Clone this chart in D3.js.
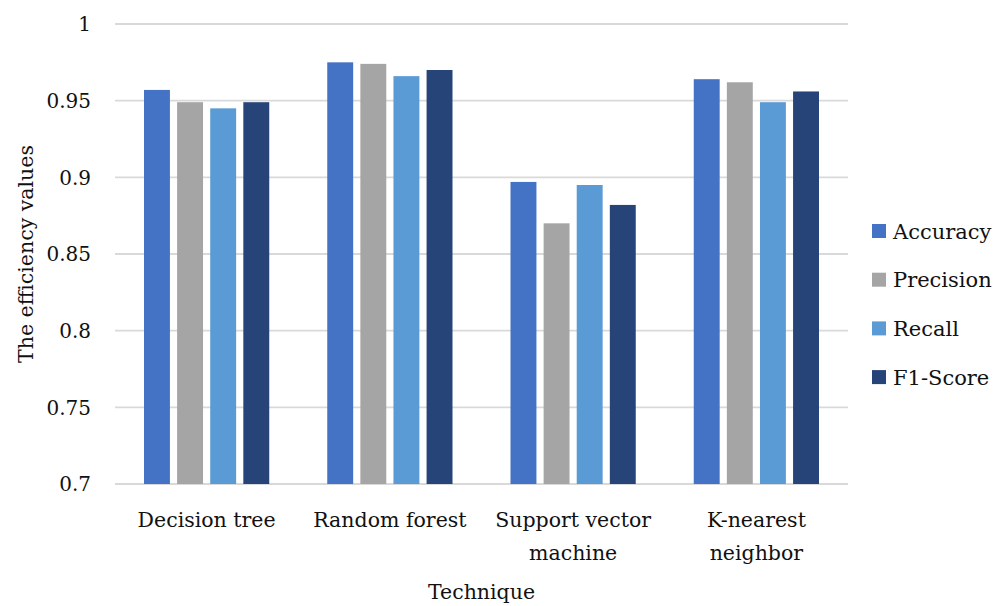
<!DOCTYPE html>
<html><head><meta charset="utf-8">
<script src="https://cdn.jsdelivr.net/npm/d3@7"></script>
<style>
html,body{margin:0;padding:0;background:#fff;}
svg text{font-family:"DejaVu Serif",serif;fill:#111;}
</style></head>
<body><svg id="c" width="1005" height="606"></svg>
<script>
const categories = [["Decision tree"],["Random forest"],["Support vector","machine"],["K-nearest","neighbor"]];
const seriesNames = ["Accuracy","Precision","Recall","F1-Score"];
const accuracy  = [0.957, 0.975, 0.897, 0.964];
const precision = [0.949, 0.974, 0.870, 0.962];
const recall    = [0.945, 0.966, 0.895, 0.949];
const f1score   = [0.949, 0.970, 0.882, 0.956];
const yTicks = [0.7, 0.75, 0.8, 0.85, 0.9, 0.95, 1];
const yTickLabels = ["0.7","0.75","0.8","0.85","0.9","0.95","1"];
const colors = ["#4472C4","#A5A5A5","#5B9BD5","#264478"];

const seriesValues = [accuracy, precision, recall, f1score];
const svg = d3.select("#c");
const L = 115, R = 848, T = 24, B = 484;

const y = d3.scaleLinear().domain([0.7, 1]).range([B, T]);
const x0 = d3.scaleBand().domain(d3.range(categories.length)).range([L, R]).padding(0);
const x1 = d3.scaleBand().domain(d3.range(seriesNames.length))
  .range([29, x0.bandwidth() - 29]).paddingInner(0.217).paddingOuter(0);

// gridlines
svg.append("g").selectAll("line").data(yTicks).join("line")
  .attr("x1", L).attr("x2", R)
  .attr("y1", d => y(d)).attr("y2", d => y(d))
  .attr("stroke", "#d9d9d9").attr("stroke-width", 1.8);

// y tick labels
svg.append("g").selectAll("text").data(yTicks).join("text")
  .attr("x", 91).attr("y", d => y(d)).attr("dy", "0.36em")
  .attr("text-anchor", "end").style("font-size", "20px")
  .text((d, i) => yTickLabels[i]);

// bars
const g = svg.append("g").selectAll("g").data(categories).join("g")
  .attr("transform", (d, i) => `translate(${x0(i)},0)`);
g.selectAll("rect").data((d, ci) => seriesValues.map((s, si) => ({si, v: s[ci]})))
  .join("rect")
  .attr("x", d => x1(d.si)).attr("width", x1.bandwidth())
  .attr("y", d => y(d.v)).attr("height", d => y(0.7) - y(d.v))
  .attr("fill", d => colors[d.si]);

// x category labels
const xl = svg.append("g").selectAll("text").data(categories).join("text")
  .attr("text-anchor", "middle").style("font-size", "20.5px")
  .attr("x", (d, i) => x0(i) + x0.bandwidth() / 2).attr("y", 527);
xl.selectAll("tspan").data(d => d).join("tspan")
  .attr("x", function(){ return this.parentNode.getAttribute("x"); })
  .attr("dy", (d, i) => i === 0 ? 0 : 32.5)
  .text(d => d);

// axis titles
svg.append("text").attr("x", (L + R) / 2).attr("y", 599)
  .attr("text-anchor", "middle").style("font-size", "20.5px").text("Technique");
svg.append("text").attr("transform", `translate(33,${(T + B) / 2}) rotate(-90)`)
  .attr("text-anchor", "middle").style("font-size", "20.5px").text("The efficiency values");

// legend
const lg = svg.append("g").selectAll("g").data(seriesNames).join("g")
  .attr("transform", (d, i) => `translate(872,${231 + i * 48.7})`);
lg.append("rect").attr("x", 0).attr("y", -7).attr("width", 14).attr("height", 14)
  .attr("fill", (d, i) => colors[i]);
lg.append("text").attr("x", 21).attr("y", 0).attr("dy", "0.36em")
  .style("font-size", "21px").text(d => d);
</script></body></html>
